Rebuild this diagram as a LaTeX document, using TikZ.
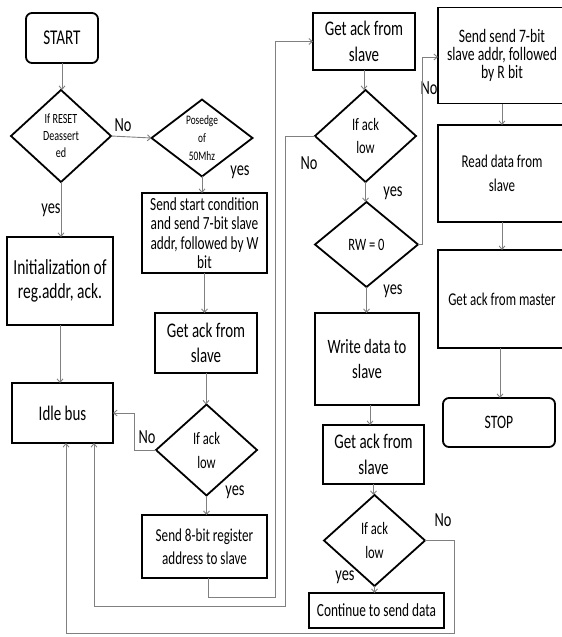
\documentclass[tikz,border=0pt]{standalone}
\usepackage{fontspec}
\setmainfont{Carlito}[FakeStretch=0.72]
\usetikzlibrary{shapes.geometric,arrows.meta}
\newcommand\fsz[2]{\fontsize{#1}{#2}\selectfont}
\begin{document}
\begin{tikzpicture}[x=1pt,y=-1pt,
  box/.style={draw=black,line width=1.8pt,align=center,inner sep=1pt,outer sep=0pt},
  rbox/.style={box,rounded corners=6pt},
  dia/.style={draw=black,line width=1.8pt,diamond,align=center,inner sep=0pt,outer sep=0pt},
  arr/.style={draw=black!50,line width=0.9pt,-{Straight Barb[length=3.5pt,width=6pt]}},
  lbl/.style={font=\fsz{20}{22},inner sep=0pt}
]
\useasboundingbox (0,0) rectangle (562,637);

% nodes
\node[rbox,minimum width=72pt,minimum height=50pt,font=\fsz{21}{22}] (start) at (62,38) {START};
\node[dia,minimum width=100pt,minimum height=92pt,font=\fsz{14}{17}] (d1) at (61,136) {If RESET\\Deassert\\ed};
\node[dia,minimum width=101pt,minimum height=70pt,font=\fsz{13}{18}] (d2) at (202,138) {Posedge\\of\\50Mhz};
\node[box,minimum width=125pt,minimum height=80pt,font=\fsz{18.5}{19.3}] (sendstart) at (204.5,233) {Send start condition\\and send 7-bit slave\\addr, followed by W\\bit};
\node[box,minimum width=106pt,minimum height=88pt,font=\fsz{21.5}{24}] (init) at (60,281) {Initialization of\\reg.addr, ack.};
\node[box,minimum width=101pt,minimum height=60pt,font=\fsz{20.8}{22}] (idle) at (62.5,413) {Idle bus};
\node[box,minimum width=102pt,minimum height=60pt,font=\fsz{20.8}{25}] (ack1) at (206,343) {Get ack from\\slave};
\node[dia,minimum width=101pt,minimum height=91pt,font=\fsz{17.5}{24}] (d3) at (206.5,450) {If ack\\low};
\node[box,minimum width=125pt,minimum height=63pt,font=\fsz{18.2}{23}] (send8) at (204.5,546.5) {Send 8-bit register\\address to slave};

\node[box,minimum width=102pt,minimum height=57pt,font=\fsz{20.8}{26}] (ack2) at (364,41.5) {Get ack from\\slave};
\node[dia,minimum width=101pt,minimum height=92pt,font=\fsz{17.5}{23}] (d4) at (365.5,136) {If ack\\low};
\node[dia,minimum width=103pt,minimum height=85pt,font=\fsz{17.4}{20}] (d5) at (366.5,244.5) {RW = 0};
\node[box,minimum width=104pt,minimum height=92pt,font=\fsz{20.4}{25}] (write) at (367,359) {Write data to\\slave};
\node[box,minimum width=101pt,minimum height=59pt,font=\fsz{20.8}{26}] (ack3) at (373.5,454.5) {Get ack from\\slave};
\node[dia,minimum width=101pt,minimum height=91pt,font=\fsz{17.5}{24}] (d6) at (374.5,540.5) {If ack\\low};
\node[box,minimum width=135pt,minimum height=35pt,font=\fsz{18.5}{20}] (cont) at (376.5,610.5) {Continue to send data};

\node[box,minimum width=128pt,minimum height=96pt,font=\fsz{19}{18}] (sendR) at (502,55.5) {Send send 7-bit\\slave addr, followed\\by R bit};
\node[box,minimum width=128pt,minimum height=97pt,font=\fsz{18}{24}] (read) at (502,173.5) {Read data from\\slave};
\node[box,minimum width=128pt,minimum height=98pt,font=\fsz{18}{20}] (getm) at (502,299) {Get ack from master};
\node[rbox,minimum width=112pt,minimum height=49pt,font=\fsz{19}{20}] (stop) at (499,422.5) {STOP};

% labels
\node[lbl] (l1) at (123,125) {No};
\node[lbl] (l2) at (240,172) {yes};
\node[lbl] (l3) at (51,210) {yes};
\node[lbl] (l4) at (147,437) {No};
\node[lbl] (l5) at (235,492) {yes};
\node[lbl] (l6) at (309,163) {No};
\node[lbl] (l7) at (393,193) {yes};
\node[lbl] (l8) at (429,88) {No};
\node[lbl] (l9) at (393,291) {yes};
\node[lbl] (l10) at (443,520) {No};
\node[lbl] (l11) at (345,577) {yes};

% bend points
\coordinate (c1) at (275,597);
\coordinate (c2) at (285,606);
\coordinate (c3) at (454,633);
\coordinate (c4) at (422,57);

% connectors
\draw[arr] (start.south) -- (start.south |- d1.north);
\draw[arr] (d1.east) -- (d2.west);
\draw[arr] (d1.south) -- (d1.south |- init.north);
\draw[arr] (d2.south) -- (d2.south |- sendstart.north);
\draw[arr] (sendstart.south) -- (sendstart.south |- ack1.north);
\draw[arr] (init.south) -- (init.south |- idle.north);
\draw[arr] (ack1.south) -- (ack1.south |- d3.north);
\draw[arr] (d3.west) -- ++(-22,0) |- (idle.east);
\draw[arr] (d3.south) -- (d3.south |- send8.north);
\draw[arr] ([xshift=3.5pt]send8.south) |- (c1) |- (ack2.west);
\draw[arr] (ack2.south) -- (ack2.south |- d4.north);
\draw[arr] (d4.west) -| (c2) -| ([xshift=31.5pt]idle.south);
\draw[arr] (d4.south) -- (d4.south |- d5.north);
\draw[arr] (d5.east) -| (c4) -- (c4 -| sendR.west);
\draw[arr] (d5.south) -- (d5.south |- write.north);
\draw[arr] ([xshift=3pt]write.south) -- ([xshift=-3.5pt]ack3.north);
\draw[arr] (ack3.south) -- (ack3.south |- d6.north);
\draw[arr] (d6.south) -- (d6.south |- cont.north);
\draw[arr] (d6.east) -| (c3) -| ([xshift=3.5pt]idle.south);
\draw[arr] (sendR.south) -- (read.north);
\draw[arr] (read.south) -- (getm.north);
\draw[arr] ([xshift=-2pt]getm.south) -- ([xshift=1pt]stop.north);
\end{tikzpicture}
\end{document}
